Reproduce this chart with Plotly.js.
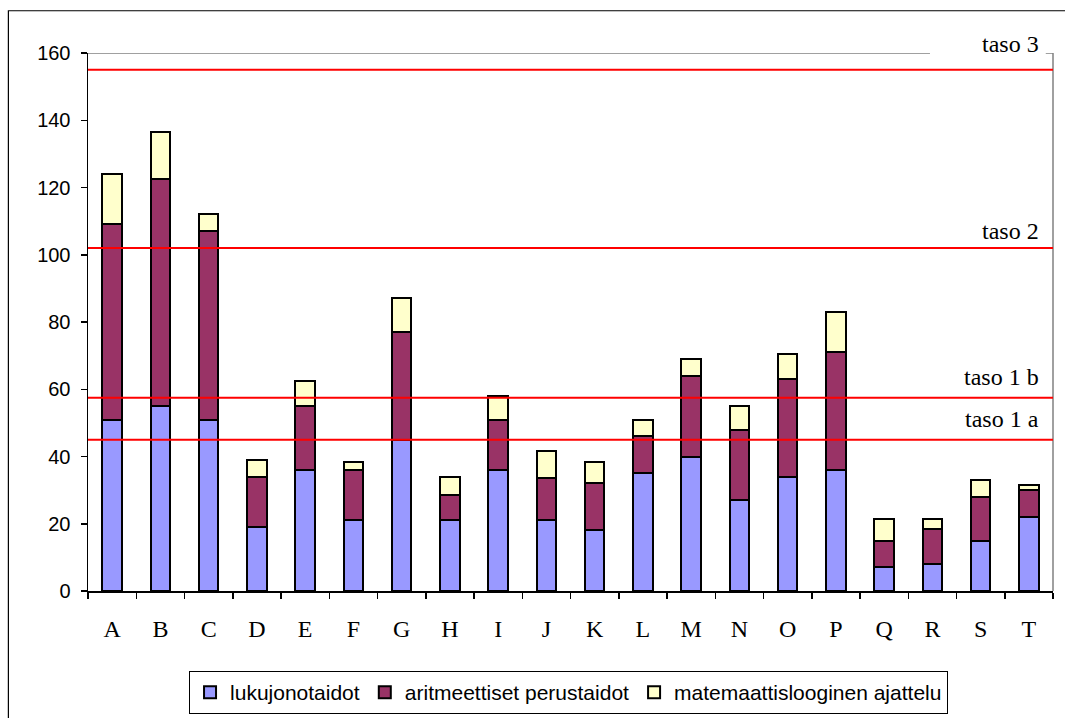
<!DOCTYPE html>
<html>
<head>
<meta charset="utf-8">
<script src="https://cdn.plot.ly/plotly-3.0.1.min.js"></script>
<style>
  html, body { margin: 0; padding: 0; background: #fff; }
  #chart { width: 1065px; height: 718px; }
</style>
</head>
<body>
<div id="chart"></div>
<script>
// Pupils / schools A–T, stacked by skill area
const categories = ['A','B','C','D','E','F','G','H','I','J','K','L','M','N','O','P','Q','R','S','T'];
const lukujonotaidot = [51, 55, 51, 19, 36, 21, 45, 21, 36, 21, 18, 35, 40, 27, 34, 36, 7, 8, 15, 22];
const aritmeettiset = [58, 67.5, 56, 15, 19, 15, 32, 7.5, 15, 12.5, 14, 11, 24, 21, 29, 35, 8, 10.5, 13, 8];
const looginen = [15, 14, 5, 5, 7.5, 2.5, 10, 5.5, 7, 8, 6.5, 5, 5, 7, 7.5, 12, 6.5, 3, 5, 1.5];

// Reference levels drawn as red horizontal lines
const levelNames = ['taso 3', 'taso 2', 'taso 1 b', 'taso 1 a'];
const levelValues = [155, 102, 57.5, 45];

const seriesNames = ['lukujonotaidot', 'aritmeettiset perustaidot', 'matemaattislooginen ajattelu'];
const seriesData = [lukujonotaidot, aritmeettiset, looginen];
const seriesColors = ['#9999FF', '#993366', '#FFFFCC'];

const traces = seriesData.map((vals, i) => ({
  type: 'bar',
  name: seriesNames[i],
  x: categories,
  y: vals,
  marker: { color: seriesColors[i], line: { color: '#000000', width: 2 } },
  hoverinfo: 'x+y+name'
}));

// Label placement above each level line (pixels)
const labelShift = [11, 2, 6, 6];

const serif = '"Liberation Serif", "Times New Roman", serif';
const sans = '"Liberation Sans", Arial, sans-serif';

const shapes = [];
// outer chart frame
shapes.push({ type: 'rect', xref: 'paper', yref: 'paper', x0: -0.0825, x1: 1.05, y0: -0.26, y1: 1.0785,
  line: { color: '#000000', width: 1.2 }, fillcolor: 'rgba(0,0,0,0)', layer: 'below' });
// gray top border of the plot area, broken behind the top label
shapes.push({ type: 'line', xref: 'paper', yref: 'y', x0: 0, x1: 0.8725, y0: 160, y1: 160,
  line: { color: '#808080', width: 1.5 }, layer: 'below' });
shapes.push({ type: 'line', xref: 'paper', yref: 'y', x0: 0.9925, x1: 1, y0: 160, y1: 160,
  line: { color: '#808080', width: 1.5 }, layer: 'below' });
// gray right border
shapes.push({ type: 'line', xref: 'paper', yref: 'y', x0: 1, x1: 1, y0: 0, y1: 160,
  line: { color: '#808080', width: 1.5 }, layer: 'below' });

levelValues.forEach(v => {
  shapes.push({ type: 'line', xref: 'paper', yref: 'y', x0: 0, x1: 1, y0: v, y1: v,
    line: { color: '#FF0000', width: 2 }, layer: 'above' });
});

const annotations = levelValues.map((v, i) => ({
  xref: 'paper', yref: 'y', x: 0.9875, y: v,
  xanchor: 'right', yanchor: 'bottom', yshift: labelShift[i],
  text: levelNames[i], showarrow: false,
  font: { family: serif, size: 24, color: '#000000' }
}));

const layout = {
  width: 1065,
  height: 718,
  margin: { l: 88, r: 12, t: 53, b: 127, autoexpand: false },
  paper_bgcolor: '#ffffff',
  plot_bgcolor: '#ffffff',
  barmode: 'stack',
  bargap: 0.6,
  showlegend: true,
  legend: {
    orientation: 'h',
    x: 0.1047, y: -0.1487, xanchor: 'left', yanchor: 'top',
    bordercolor: '#000000', borderwidth: 1,
    font: { family: sans, size: 21, color: '#000000' },
    traceorder: 'normal',
    itemclick: false
  },
  xaxis: {
    type: 'category',
    automargin: false,
    showline: true, linecolor: '#000000', linewidth: 1.5,
    ticks: 'outside', tickson: 'boundaries', ticklen: 6, tickcolor: '#000000', tickwidth: 1.5,
    showgrid: false, zeroline: false,
    tickfont: { family: serif, size: 24, color: '#000000' },
    ticklabelstandoff: 16
  },
  yaxis: {
    range: [0, 160],
    automargin: false,
    tickvals: [0, 20, 40, 60, 80, 100, 120, 140, 160],
    showline: true, linecolor: '#000000', linewidth: 1.5,
    ticks: 'outside', ticklen: 6, tickcolor: '#000000', tickwidth: 1.5,
    showgrid: false, zeroline: false,
    tickfont: { family: sans, size: 20, color: '#000000' },
    ticklabelstandoff: 6
  },
  shapes: shapes,
  annotations: annotations
};

Plotly.newPlot('chart', traces, layout, { displayModeBar: false, staticPlot: true });
</script>
</body>
</html>
